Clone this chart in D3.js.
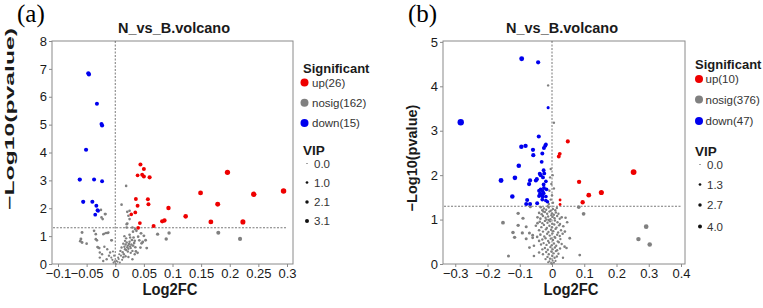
<!DOCTYPE html>
<html>
<head>
<meta charset="utf-8">
<script src="https://cdn.jsdelivr.net/npm/d3@7/dist/d3.min.js"></script>
<style>
  body { margin: 0; background: #fff; }
  svg { display: block; font-family: "Liberation Sans", Arial, sans-serif; }
  .axis .tick text { fill: #1a1a1a; font-size: 13px; }
  .axis .tick line { stroke: #8a8a8a; }
  .axis .domain { display: none; }
</style>
</head>
<body>
<div id="chart"></div>
<script>
// ---- panel (a) data: [log2FC, -log10(p), VIP] ----
const upA = [
  [0.044,3.57,1.2],[0.050,3.41,1.2],[0.039,3.18,1.0],[0.050,3.14,1.2],[0.060,3.11,1.3],
  [0.036,2.33,1.1],[0.057,2.32,1.2],[0.039,2.09,1.1],[0.058,2.14,1.2],[0.028,1.78,0.9],
  [0.093,2.01,1.5],[0.043,1.47,1.0],[0.040,1.30,1.0],[0.067,1.36,1.2],[0.082,1.53,1.4],
  [0.086,1.56,1.4],[0.123,1.71,1.7],[0.149,2.55,1.9],[0.167,1.51,1.9],[0.179,2.14,2.0],
  [0.196,3.29,2.3],[0.223,1.51,2.1],[0.242,2.50,2.4],[0.294,2.62,2.5],[0.035,1.85,1.0],
  [0.047,3.20,1.1]
];
const downA = [
  [-0.047,6.84,1.4],[-0.032,5.75,1.2],[-0.023,4.97,1.3],[-0.024,5.02,1.2],[-0.051,4.10,1.3],
  [-0.062,3.03,1.4],[-0.037,3.03,1.2],[-0.023,2.97,1.1],[-0.056,2.23,1.3],[-0.040,2.23,1.2],
  [-0.033,2.09,1.1],[-0.030,1.91,1.0],[-0.035,1.77,1.0],[-0.046,6.80,1.3],[-0.031,1.93,1.0]
];
const nosigA = [
  [-0.058,1.13,0.5],[-0.060,0.90,0.5],[-0.061,0.82,0.5],[-0.058,0.77,0.5],[-0.050,0.73,0.4],
  [-0.037,1.19,0.4],[-0.034,1.07,0.4],[-0.032,0.85,0.4],[-0.031,0.61,0.4],[-0.028,0.57,0.4],
  [-0.027,0.41,0.3],[-0.027,0.23,0.3],[-0.025,1.94,0.4],[-0.022,1.61,0.4],[-0.017,1.79,0.4],
  [-0.021,1.07,0.3],[-0.016,1.11,0.3],[-0.013,1.11,0.3],[-0.007,0.85,0.3],[-0.014,0.53,0.3],
  [-0.009,0.41,0.3],[-0.021,0.11,0.3],[-0.015,0.17,0.3],[-0.007,0.23,0.2],[-0.003,0.05,0.2],
  [-0.019,1.09,0.3],[-0.012,1.13,0.3],[-0.006,0.85,0.3],[-0.024,1.67,0.4],[-0.018,1.79,0.4],
  [-0.030,0.59,0.3],[-0.034,0.89,0.4],[-0.011,0.30,0.3],[-0.005,0.15,0.2],[-0.019,0.62,0.3],
  [-0.023,0.35,0.3],[-0.002,0.30,0.2],[-0.004,0.45,0.2],[-0.001,0.10,0.2],
  [0.001,0.00,0.2],[0.002,0.11,0.2],[0.005,0.23,0.2],[0.007,0.35,0.2],[0.009,0.47,0.3],
  [0.011,0.59,0.3],[0.014,0.73,0.3],[0.017,0.83,0.3],[0.019,0.92,0.3],[0.019,2.80,0.4],
  [0.011,2.13,0.4],[0.025,1.91,0.4],[0.023,1.73,0.4],[0.025,1.61,0.4],[0.021,1.45,0.4],
  [0.020,1.31,0.4],[0.030,1.31,0.4],[0.031,1.16,0.4],[0.037,1.19,0.4],[0.025,1.05,0.4],
  [0.034,0.83,0.4],[0.050,1.01,0.5],[0.048,0.79,0.5],[0.055,0.57,0.5],[0.044,0.59,0.4],
  [0.074,1.07,0.7],[0.089,0.90,0.8],[0.094,1.11,0.8],[0.180,1.12,1.2],[0.218,0.90,1.3],
  [0.030,0.47,0.3],[0.034,0.35,0.3],[0.030,0.17,0.3],[0.015,0.35,0.3],[0.017,0.53,0.3],
  [0.012,0.15,0.2],[0.008,0.05,0.2],[0.004,0.08,0.2],[0.006,0.18,0.2],[0.013,0.42,0.3],
  [0.016,0.62,0.3],[0.018,0.70,0.3],[0.020,0.77,0.3],[0.021,0.60,0.3],[0.022,0.66,0.3],
  [0.023,0.55,0.3],[0.024,0.72,0.3],[0.025,0.80,0.3],[0.026,0.63,0.3],[0.027,0.57,0.3],
  [0.028,0.70,0.3],[0.029,0.86,0.4],[0.031,0.66,0.4],[0.033,0.75,0.4],[0.035,0.60,0.4],
  [0.036,0.45,0.4],[0.027,0.40,0.3],[0.022,0.45,0.3],[0.019,0.50,0.3],[0.026,0.95,0.3],
  [0.032,0.95,0.4],[0.040,0.98,0.4],[0.039,0.40,0.4],[0.046,0.74,0.5],[0.042,0.85,0.4],
  [0.023,0.25,0.3],[0.018,0.28,0.3],[0.014,0.24,0.3],[0.010,0.30,0.2],[0.016,1.00,0.3],
  [0.021,1.87,0.4],[0.020,1.43,0.4],[0.045,1.10,0.5],[0.035,1.25,0.4],[0.053,0.85,0.5]
];
const xTicksA = [-0.1, -0.05, 0, 0.05, 0.1, 0.15, 0.2, 0.25, 0.3];
const yTicksA = [0, 1, 2, 3, 4, 5, 6, 7, 8];
const sigLabelsA = ["up(26)", "nosig(162)", "down(15)"];
const vipKeysA = [0.0, 1.0, 2.1, 3.1];

// ---- panel (b) data ----
const upB = [
  [0.049,2.76,1.3],[0.024,2.48,1.1],[0.021,2.42,1.1],[0.253,2.07,3.0],[0.084,1.85,1.5],
  [0.153,1.61,2.2],[0.114,1.55,1.9],[0.095,1.39,1.5],[0.025,1.44,0.5],[0.025,1.34,0.5]
];
const downB = [
  [-0.094,4.62,2.0],[-0.043,4.54,1.4],[-0.283,3.19,3.7],[-0.041,2.87,1.3],[-0.095,2.64,1.6],
  [-0.082,2.66,1.5],[-0.059,2.57,1.4],[-0.058,2.45,1.4],[-0.030,2.49,1.2],[-0.025,2.61,1.2],
  [-0.021,2.66,1.2],[-0.019,2.69,1.1],[-0.032,2.30,1.1],[-0.103,2.21,1.7],[-0.026,2.11,1.1],
  [-0.024,2.04,1.1],[-0.035,2.00,1.2],[-0.047,1.91,1.3],[-0.115,1.94,1.8],[-0.158,1.88,2.0],
  [-0.068,1.88,1.4],[-0.071,1.80,1.4],[-0.019,1.86,1.0],[-0.026,1.79,1.1],[-0.035,1.68,1.2],
  [-0.029,1.64,1.1],[-0.026,1.59,1.1],[-0.034,1.56,1.2],[-0.019,1.52,1.0],[-0.123,1.52,1.7],
  [-0.077,1.44,1.3],[-0.080,1.35,1.3],[-0.068,1.35,1.3],[-0.046,1.37,1.2],[-0.019,1.43,1.0],
  [-0.037,1.58,1.2],[-0.012,3.52,0.6],[-0.040,1.53,1.2],[-0.030,1.45,1.1],[-0.014,1.40,0.9],
  [-0.050,1.88,1.3],[-0.038,2.03,1.2],[-0.028,1.95,1.1],[-0.017,1.68,1.0],[-0.029,1.52,1.1],
  [-0.025,1.71,1.1],[-0.040,1.65,1.2]
];
const nosigB = [
  [-0.035,1.28,0.4],[-0.025,1.25,0.3],[-0.018,1.22,0.3],[-0.010,1.27,0.3],[-0.004,1.20,0.3],
  [0.003,1.24,0.3],[0.010,1.21,0.3],[-0.030,1.21,0.4],[0.015,1.26,0.3],[-0.013,1.30,0.3],
  [-0.067,1.29,0.6],[0.083,1.28,0.9],
  [-0.040,1.15,0.4],[-0.032,1.12,0.4],[-0.022,1.17,0.3],[-0.015,1.13,0.3],[-0.008,1.18,0.3],
  [0.000,1.14,0.3],[0.006,1.11,0.3],[0.012,1.16,0.3],[0.020,1.13,0.3],[-0.027,1.18,0.3],
  [-0.002,1.10,0.3],[-0.105,1.14,0.8],[0.098,1.13,1.0],
  [-0.045,1.05,0.4],[-0.036,1.02,0.4],[-0.028,1.08,0.3],[-0.020,1.04,0.3],[-0.012,1.07,0.3],
  [-0.005,1.01,0.3],[0.002,1.06,0.3],[0.008,1.03,0.3],[0.016,1.08,0.3],[0.024,1.02,0.3],
  [0.030,1.05,0.4],[-0.090,1.03,0.7],[0.042,1.04,0.4],[-0.017,1.00,0.3],
  [-0.038,0.95,0.4],[-0.030,0.92,0.3],[-0.022,0.97,0.3],[-0.014,0.93,0.3],[-0.006,0.96,0.3],
  [0.001,0.91,0.3],[0.009,0.98,0.3],[0.017,0.94,0.3],[0.025,0.90,0.3],[0.047,0.94,0.4],
  [-0.152,0.93,1.1],[-0.045,0.92,0.4],[-0.010,0.99,0.3],
  [-0.105,0.87,0.8],[-0.080,0.84,0.6],[-0.050,0.86,0.4],[-0.033,0.83,0.3],[-0.025,0.88,0.3],
  [-0.016,0.81,0.3],[-0.008,0.86,0.3],[0.000,0.83,0.3],[0.007,0.89,0.3],[0.014,0.82,0.3],
  [0.022,0.87,0.3],[0.035,0.85,0.4],[0.292,0.84,1.8],
  [-0.121,0.71,0.9],[-0.092,0.70,0.7],[-0.070,0.70,0.6],[-0.040,0.76,0.4],[-0.028,0.73,0.3],
  [-0.019,0.78,0.3],[-0.011,0.72,0.3],[-0.003,0.77,0.3],[0.004,0.74,0.3],[0.011,0.79,0.3],
  [0.019,0.71,0.3],[0.028,0.76,0.3],[0.040,0.73,0.4],
  [-0.116,0.60,0.8],[-0.060,0.65,0.5],[-0.036,0.66,0.4],[-0.024,0.62,0.3],[-0.015,0.68,0.3],
  [-0.007,0.64,0.3],[0.001,0.69,0.3],[0.008,0.61,0.3],[0.016,0.66,0.3],[0.024,0.63,0.3],
  [0.033,0.68,0.4],[-0.046,0.61,0.4],
  [-0.080,0.57,0.6],[-0.060,0.59,0.5],[-0.030,0.55,0.3],[-0.020,0.58,0.3],[-0.012,0.52,0.3],
  [-0.004,0.57,0.3],[0.003,0.54,0.3],[0.010,0.59,0.3],[0.018,0.51,0.3],[0.026,0.56,0.3],
  [0.055,0.58,0.5],[0.268,0.56,1.6],[-0.040,0.52,0.4],
  [-0.056,0.41,0.4],[-0.026,0.47,0.3],[-0.017,0.43,0.3],[-0.009,0.48,0.3],[-0.001,0.42,0.3],
  [0.006,0.46,0.3],[0.013,0.41,0.3],[0.021,0.49,0.3],[0.039,0.39,0.4],[0.303,0.44,1.7],
  [-0.034,0.44,0.3],[0.030,0.45,0.3],
  [-0.070,0.37,0.5],[-0.022,0.36,0.3],[-0.013,0.32,0.3],[-0.005,0.38,0.3],[0.002,0.33,0.3],
  [0.009,0.37,0.3],[0.016,0.31,0.3],[0.025,0.35,0.3],[-0.030,0.33,0.3],[0.045,0.36,0.4],
  [-0.040,0.26,0.4],[-0.018,0.27,0.3],[-0.010,0.22,0.3],[-0.002,0.28,0.3],[0.005,0.24,0.3],
  [0.012,0.29,0.3],[0.020,0.23,0.3],[0.086,0.20,0.5],[-0.028,0.22,0.3],
  [-0.135,0.18,0.6],[-0.056,0.18,0.4],[-0.014,0.16,0.3],[-0.006,0.12,0.3],[0.001,0.18,0.3],
  [0.008,0.14,0.3],[0.015,0.17,0.3],[0.034,0.14,0.3],[-0.020,0.11,0.3],
  [-0.008,0.06,0.2],[-0.003,0.02,0.2],[0.002,0.08,0.2],[0.006,0.03,0.2],[0.011,0.07,0.2],
  [-0.012,0.04,0.2],[0.000,0.00,0.2],
  [-0.012,4.02,0.3],[0.006,3.18,0.3],[-0.004,2.14,0.3],[-0.006,1.95,0.3],[-0.002,1.80,0.3],
  [-0.008,1.65,0.3],[0.000,1.55,0.3],[-0.004,1.45,0.3],[0.003,1.38,0.3],[-0.010,1.35,0.3],
  [0.006,1.70,0.3],[0.002,2.00,0.3]
];
const xTicksB = [-0.3, -0.2, -0.1, 0, 0.1, 0.2, 0.3, 0.4];
const yTicksB = [0, 1, 2, 3, 4, 5];
const sigLabelsB = ["up(10)", "nosig(376)", "down(47)"];
const vipKeysB = [0.0, 1.3, 2.7, 4.0];

const colors = { up: "#ee0000", nosig: "#808080", down: "#0000ee" };

class VolcanoPlot {
  constructor(_config, _data) {
    this.config = _config;
    this.data = _data;
    this.initVis();
  }

  initVis() {
    let vis = this;
    const c = vis.config;

    vis.g = c.svg.append("g");

    vis.xScale = d3.scaleLinear().domain(c.xDomain).range([c.box.left, c.box.right]);
    vis.yScale = d3.scaleLinear().domain(c.yDomain).range([c.box.bottom, c.box.top]);
    vis.rScale = d3.scaleSqrt().domain([0, c.vipMax]).range([0.4, c.rMax]);
    vis.rLegend = d3.scaleSqrt().domain([0, c.vipMax]).range([0.5, 2.0]);

    vis.xAxis = d3.axisBottom(vis.xScale)
        .tickValues(c.xTicks)
        .tickFormat(d3.format("~g"))
        .tickSize(3).tickPadding(2);
    vis.yAxis = d3.axisLeft(vis.yScale)
        .tickValues(c.yTicks)
        .tickFormat(d3.format("~g"))
        .tickSize(3).tickPadding(2);

    vis.renderVis();
  }

  renderVis() {
    let vis = this;
    const c = vis.config;
    const b = c.box;

    // frame
    vis.g.append("rect")
        .attr("x", b.left).attr("y", b.top)
        .attr("width", b.right - b.left).attr("height", b.bottom - b.top)
        .attr("fill", "none").attr("stroke", "#8a8a8a").attr("stroke-width", 1);

    // threshold lines
    vis.g.append("line")
        .attr("x1", b.left + 1).attr("x2", vis.xScale(c.xTicks[c.xTicks.length - 1]))
        .attr("y1", vis.yScale(1.3)).attr("y2", vis.yScale(1.3))
        .attr("stroke", "#555").attr("stroke-width", 0.8).attr("stroke-dasharray", "2,1.5");
    vis.g.append("line")
        .attr("x1", vis.xScale(0)).attr("x2", vis.xScale(0))
        .attr("y1", b.top).attr("y2", b.bottom)
        .attr("stroke", "#555").attr("stroke-width", 0.8).attr("stroke-dasharray", "2,1.5");

    // points
    ["nosig", "up", "down"].forEach(key => {
      vis.g.append("g").selectAll("circle")
        .data(vis.data[key])
      .join("circle")
        .attr("cx", d => vis.xScale(d[0]))
        .attr("cy", d => vis.yScale(d[1]))
        .attr("r", d => vis.rScale(d[2]))
        .attr("fill", colors[key]);
    });

    // axes
    vis.g.append("g").attr("class", "axis x-axis")
        .attr("transform", `translate(0,${b.bottom})`)
        .call(vis.xAxis);
    vis.g.append("g").attr("class", "axis y-axis")
        .attr("transform", `translate(${b.left},0)`)
        .call(vis.yAxis);

    // titles
    vis.g.append("text")
        .attr("x", c.titleX).attr("y", 33)
        .attr("text-anchor", "middle")
        .attr("font-weight", "bold").attr("font-size", 14.5).attr("fill", "#1a1a1a")
        .text("N_vs_B.volcano");

    vis.g.append("text")
        .attr("x", c.xLabelX).attr("y", 294.5)
        .attr("text-anchor", "middle")
        .attr("font-weight", "bold").attr("font-size", 16).attr("fill", "#1a1a1a")
        .attr("textLength", 55).attr("lengthAdjust", "spacingAndGlyphs")
        .text("Log2FC");

    const yl = vis.g.append("text")
        .attr("transform", `translate(${c.yLabel.x},${c.yLabel.y}) rotate(-90)`)
        .attr("text-anchor", "middle")
        .attr("font-weight", "bold").attr("font-size", c.yLabel.size).attr("fill", "#1a1a1a")
        .text("\u2212Log10(pvalue)");
    if (c.yLabel.length) yl.attr("textLength", c.yLabel.length).attr("lengthAdjust", "spacingAndGlyphs");

    vis.g.append("text")
        .attr("x", c.tagX).attr("y", 22)
        .attr("font-family", "'Liberation Serif', 'Times New Roman', serif")
        .attr("font-size", 25).attr("fill", "#000")
        .text(c.tag);

    // legend: significance
    const L = c.legend;
    vis.g.append("text")
        .attr("x", L.x).attr("y", L.sigTitleY)
        .attr("font-weight", "bold").attr("font-size", 13).attr("fill", "#1a1a1a")
        .text("Significant");
    const keys = ["up", "nosig", "down"];
    const sig = vis.g.append("g").selectAll("g")
        .data(keys)
      .join("g")
        .attr("transform", (d, i) => `translate(0,${L.sigY[i]})`);
    sig.append("circle").attr("cx", L.sigDotX).attr("r", 4).attr("fill", d => colors[d]);
    sig.append("text").attr("x", L.sigTextX).attr("y", 4)
        .attr("font-size", 11.5).attr("fill", "#333")
        .text((d, i) => c.sigLabels[i]);

    // legend: VIP
    vis.g.append("text")
        .attr("x", L.x).attr("y", L.vipTitleY)
        .attr("font-weight", "bold").attr("font-size", 13.5).attr("fill", "#1a1a1a")
        .text("VIP");
    const vip = vis.g.append("g").selectAll("g")
        .data(c.vipKeys)
      .join("g")
        .attr("transform", (d, i) => `translate(0,${L.vipY[i]})`);
    vip.append("circle").attr("cx", L.vipDotX).attr("r", d => vis.rLegend(d)).attr("fill", "#111");
    vip.append("text").attr("x", L.vipTextX).attr("y", 4)
        .attr("font-size", 11.5).attr("fill", "#333")
        .text(d => d3.format(".1f")(d));
  }
}

const svg = d3.select("#chart").append("svg")
    .attr("width", 763).attr("height", 308);

new VolcanoPlot({
  svg: svg,
  box: {left: 52, right: 293, top: 41, bottom: 264},
  xDomain: [-0.1105, 0.3105], yDomain: [0, 8],
  xTicks: xTicksA, yTicks: yTicksA,
  vipMax: 3.1, rMax: 3.0, vipKeys: vipKeysA, sigLabels: sigLabelsA,
  tag: "(a)", tagX: 17, titleX: 174, xLabelX: 170,
  yLabel: {x: 14, y: 119, size: 13, length: 182},
  legend: {x: 303, sigTitleY: 73, sigY: [82.5, 102.7, 123], sigDotX: 304.5, sigTextX: 312,
           vipTitleY: 155, vipY: [163.5, 182.5, 202, 221], vipDotX: 307, vipTextX: 314}
}, {up: upA, nosig: nosigA, down: downA});

new VolcanoPlot({
  svg: svg,
  box: {left: 443, right: 685, top: 41, bottom: 264},
  xDomain: [-0.338, 0.4124], yDomain: [0, 5.02],
  xTicks: xTicksB, yTicks: yTicksB,
  vipMax: 4.0, rMax: 3.3, vipKeys: vipKeysB, sigLabels: sigLabelsB,
  tag: "(b)", tagX: 408, titleX: 562, xLabelX: 571,
  yLabel: {x: 416.5, y: 158, size: 14.5, length: 0},
  legend: {x: 695, sigTitleY: 69, sigY: [79, 99.5, 121], sigDotX: 699, sigTextX: 705.5,
           vipTitleY: 156, vipY: [164.5, 184.5, 205, 226.5], vipDotX: 700, vipTextX: 707}
}, {up: upB, nosig: nosigB, down: downB});
</script>
</body>
</html>
